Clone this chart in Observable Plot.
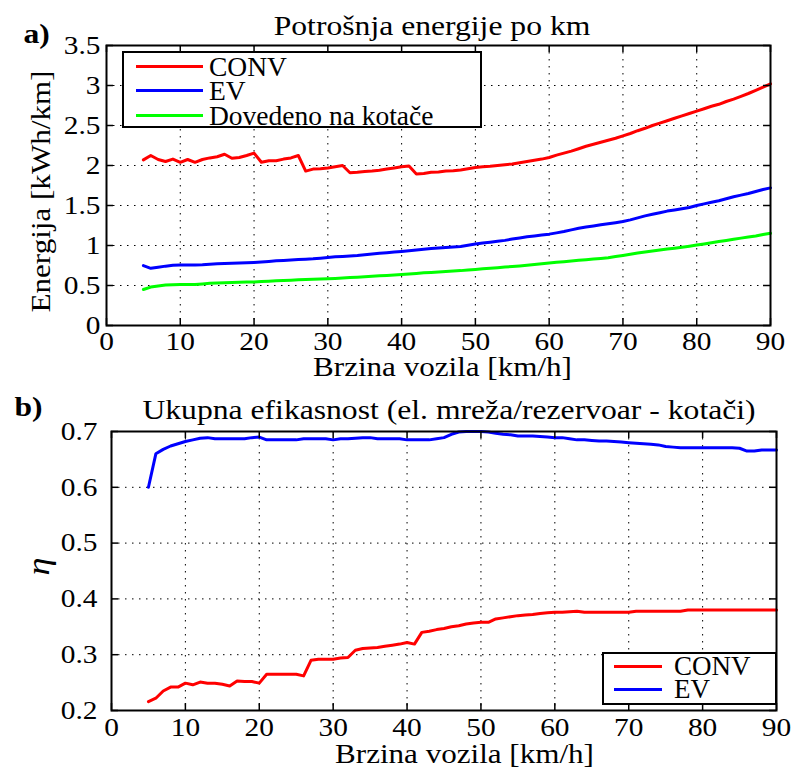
<!DOCTYPE html>
<html><head><meta charset="utf-8">
<script src="https://cdn.jsdelivr.net/npm/d3@7"></script>
<script src="https://cdn.jsdelivr.net/npm/@observablehq/plot@0.6"></script>
<style>
html,body{margin:0;padding:0;background:#fff;overflow:hidden;}
#root{position:relative;width:793px;height:767px;overflow:hidden;font-family:"Liberation Serif","Times New Roman",Times,Tinos,"DejaVu Serif","Noto Serif",serif;}
#root svg, #root svg text{font-family:"Liberation Serif","Times New Roman",Times,Tinos,"DejaVu Serif","Noto Serif",serif !important;}
.panel{position:absolute;left:0;}
.legend{position:absolute;background:#fff;border:2px solid #000;box-sizing:border-box;}
.lg-line{position:absolute;height:3px;}
.lg-text{position:absolute;line-height:0.8;transform:translateY(-50%);white-space:nowrap;color:#000;}
</style>
</head><body>
<div id="root"></div>
<script>
// ---------- data ----------
const speed = [5,6,7,8,9,10,11,12,13,14,15,16,17,18,19,20,21,22,23,24,25,26,27,28,29,30,31,32,33,34,35,36,37,38,39,40,41,42,43,44,45,46,47,48,49,50,51,52,53,54,55,56,57,58,59,60,61,62,63,64,65,66,67,68,69,70,71,72,73,74,75,76,77,78,79,80,81,82,83,84,85,86,87,88,89,90];

// a) energy per km [kWh/km]
const energyCONV = [2.07,2.125,2.075,2.05,2.08,2.04,2.075,2.04,2.075,2.095,
  2.11,2.14,2.09,2.10,2.125,2.155,2.04,2.06,2.06,2.08,
  2.095,2.125,1.93,1.955,1.96,1.97,1.985,2.0,1.91,1.915,
  1.925,1.93,1.94,1.955,1.97,1.985,1.995,1.895,1.90,1.915,
  1.92,1.93,1.935,1.945,1.96,1.975,1.985,1.99,2.0,2.01,
  2.02,2.035,2.05,2.065,2.08,2.10,2.13,2.155,2.18,2.21,
  2.24,2.265,2.29,2.315,2.34,2.37,2.40,2.435,2.465,2.50,
  2.53,2.56,2.59,2.62,2.65,2.68,2.71,2.74,2.765,2.80,
  2.83,2.865,2.90,2.94,2.98,3.02];
const energyEV = [0.748,0.715,0.728,0.742,0.752,0.756,0.756,0.756,0.76,0.767,
  0.771,0.774,0.777,0.781,0.785,0.789,0.795,0.801,0.808,0.814,
  0.819,0.824,0.829,0.834,0.842,0.85,0.858,0.864,0.870,0.876,
  0.885,0.893,0.902,0.91,0.918,0.926,0.935,0.944,0.953,0.962,
  0.97,0.976,0.982,0.988,1.003,1.018,1.032,1.042,1.052,1.064,
  1.08,1.095,1.11,1.12,1.13,1.142,1.158,1.174,1.195,1.215,
  1.23,1.245,1.26,1.272,1.285,1.30,1.32,1.345,1.37,1.39,
  1.41,1.43,1.445,1.46,1.475,1.50,1.52,1.54,1.56,1.585,
  1.61,1.63,1.65,1.675,1.70,1.72];
const energyWheels = [0.45,0.48,0.495,0.505,0.51,0.511,0.512,0.513,0.52,0.527,
  0.531,0.534,0.537,0.54,0.543,0.545,0.549,0.554,0.559,0.563,
  0.567,0.571,0.574,0.577,0.581,0.585,0.589,0.594,0.599,0.603,
  0.609,0.615,0.621,0.626,0.631,0.636,0.643,0.651,0.658,0.664,
  0.67,0.676,0.681,0.686,0.694,0.701,0.708,0.715,0.722,0.73,
  0.738,0.745,0.754,0.763,0.772,0.781,0.79,0.798,0.806,0.815,
  0.823,0.83,0.838,0.848,0.862,0.876,0.89,0.905,0.919,0.931,
  0.943,0.955,0.966,0.977,0.99,1.005,1.02,1.035,1.05,1.063,
  1.077,1.092,1.106,1.12,1.137,1.153];

// b) total efficiency
const effCONV = [0.216,0.222,0.235,0.242,0.242,0.249,0.246,0.251,0.249,0.249,
  0.247,0.244,0.253,0.252,0.252,0.249,0.265,0.265,0.265,0.265,
  0.265,0.262,0.29,0.292,0.292,0.292,0.294,0.295,0.308,0.311,
  0.312,0.313,0.315,0.317,0.319,0.322,0.319,0.34,0.342,0.345,
  0.347,0.35,0.352,0.355,0.357,0.358,0.358,0.364,0.366,0.368,
  0.37,0.371,0.372,0.374,0.375,0.376,0.376,0.377,0.378,0.376,
  0.376,0.376,0.376,0.376,0.376,0.376,0.378,0.378,0.378,0.378,
  0.378,0.378,0.378,0.38,0.38,0.38,0.38,0.38,0.38,0.38,
  0.38,0.38,0.38,0.38,0.38,0.38];
const effEV = [0.60,0.66,0.668,0.674,0.678,0.682,0.685,0.688,0.689,0.687,
  0.687,0.687,0.687,0.687,0.689,0.69,0.685,0.685,0.685,0.685,
  0.685,0.687,0.687,0.687,0.687,0.685,0.687,0.687,0.688,0.689,
  0.689,0.687,0.687,0.687,0.687,0.685,0.685,0.685,0.685,0.687,
  0.689,0.695,0.699,0.70,0.70,0.70,0.699,0.697,0.695,0.694,
  0.692,0.692,0.692,0.691,0.69,0.689,0.689,0.687,0.685,0.685,
  0.684,0.683,0.683,0.682,0.681,0.68,0.679,0.678,0.677,0.676,
  0.673,0.672,0.671,0.671,0.671,0.671,0.671,0.671,0.671,0.671,
  0.67,0.665,0.665,0.667,0.667,0.667];

const xTicks = [0,10,20,30,40,50,60,70,80,90];
const yTicksA = [0,0.5,1,1.5,2,2.5,3,3.5];
const yTicksB = [0.2,0.3,0.4,0.5,0.6,0.7];
const legendA = ["CONV","EV","Dovedeno na kotače"];
const legendB = ["CONV","EV"];
const colorsA = ["#ff0000","#0000ff","#00ff00"];
const colorsB = ["#ff0000","#0000ff"];

const titleA = "Potrošnja energije po km";
const titleB = "Ukupna efikasnost (el. mreža/rezervoar - kotači)";
const xLabel = "Brzina vozila [km/h]";
const yLabelA = "Energija [kWh/km]";
const yLabelB = "η";

// ---------- helpers ----------
const FONT = '"Liberation Serif","Times New Roman",Times,Tinos,"DejaVu Serif","Noto Serif",serif';
const grid = {stroke:"#000", strokeOpacity:1, strokeWidth:1, strokeDasharray:"1.5,5.5"};
function inwardTicks(W, H, yt, len){
  return [
    Plot.tickX(xTicks, {x:d=>d, insetTop:H-len, stroke:"#000", strokeWidth:1.5}),
    Plot.tickX(xTicks, {x:d=>d, insetBottom:H-len, stroke:"#000", strokeWidth:1.5}),
    Plot.tickY(yt, {y:d=>d, insetRight:W-len, stroke:"#000", strokeWidth:1.5}),
    Plot.tickY(yt, {y:d=>d, insetLeft:W-len, stroke:"#000", strokeWidth:1.5})
  ];
}
function stretch(svg, f){
  svg.querySelectorAll("text").forEach(t=>{
    if (t.querySelector("tspan")) return;
    const L = t.getComputedTextLength();
    if (L > 0){ t.setAttribute("textLength", (L*f).toFixed(2)); t.setAttribute("lengthAdjust","spacingAndGlyphs"); }
  });
}
function legend(root, {left, top, width, height, items, colors, rows, lineLeft, lineWidth, textLeft, fontSize}){
  const box = document.createElement("div");
  box.className = "legend";
  Object.assign(box.style, {left:left+"px", top:top+"px", width:width+"px", height:height+"px", fontSize:fontSize+"px"});
  items.forEach((name,i)=>{
    const ln = document.createElement("div");
    ln.className = "lg-line";
    Object.assign(ln.style, {left:lineLeft+"px", top:(rows[i]-1.5)+"px", width:lineWidth+"px", background:colors[i]});
    const tx = document.createElement("div");
    tx.className = "lg-text";
    Object.assign(tx.style, {left:textLeft+"px", top:(rows[i]+1)+"px"});
    tx.textContent = name;
    box.appendChild(ln); box.appendChild(tx);
  });
  root.appendChild(box);
}

const root = document.getElementById("root");

// ---------- panel a ----------
{
  const width = 793, height = 385, mT = 45, mB = 60, mL = 106, mR = 23;
  const W = width-mL-mR, H = height-mT-mB;
  const svg = Plot.plot({
    width, height, marginTop:mT, marginBottom:mB, marginLeft:mL, marginRight:mR,
    style:`font-family:${FONT};font-size:26px;background:#fff;overflow:visible;color:#000;`,
    x:{domain:[0,90]},
    y:{domain:[0,3.5]},
    marks:[
      Plot.gridX(xTicks, grid),
      Plot.gridY(yTicksA, grid),
      Plot.lineY(energyCONV, {x:speed, stroke:colorsA[0], strokeWidth:3}),
      Plot.lineY(energyEV, {x:speed, stroke:colorsA[1], strokeWidth:3}),
      Plot.lineY(energyWheels, {x:speed, stroke:colorsA[2], strokeWidth:3}),
      Plot.frame({stroke:"#000", strokeWidth:2}),
      ...inwardTicks(W, H, yTicksA, 7),
      Plot.axisX({ticks:xTicks, tickSize:0, tickPadding:6.5, tickFormat:String, label:null, fontSize:26}),
      Plot.axisY({ticks:yTicksA, tickSize:0, tickPadding:6, tickFormat:String, label:null, fontSize:26}),
      Plot.text([titleA], {frameAnchor:"top", textAnchor:"middle", lineAnchor:"top", dx:-6.5, dy:-30, fontSize:28}),
      Plot.text(["a)"], {frameAnchor:"top-left", textAnchor:"start", lineAnchor:"top", dx:-83, dy:-22, fontSize:28, fontWeight:"bold"}),
      Plot.text([xLabel], {frameAnchor:"bottom", textAnchor:"middle", lineAnchor:"top", dx:4, dy:31, fontSize:27.5}),
      Plot.text([yLabelA], {frameAnchor:"left", textAnchor:"middle", lineAnchor:"middle", rotate:-90, dx:-65, dy:6, fontSize:27.5})
    ]
  });
  const wrap = document.createElement("div");
  wrap.className = "panel"; wrap.style.top = "0px";
  wrap.appendChild(svg); root.appendChild(wrap);
  stretch(svg, 1.13);
  legend(root, {left:122, top:51, width:360, height:77, items:legendA, colors:colorsA,
    rows:[13,37,62], lineLeft:12, lineWidth:67, textLeft:85, fontSize:27.5});
}

// ---------- panel b ----------
{
  const width = 793, height = 382, mT = 46, mB = 57, mL = 111, mR = 17;
  const W = width-mL-mR, H = height-mT-mB;
  const svg = Plot.plot({
    width, height, marginTop:mT, marginBottom:mB, marginLeft:mL, marginRight:mR,
    style:`font-family:${FONT};font-size:26px;background:#fff;overflow:visible;color:#000;`,
    x:{domain:[0,90]},
    y:{domain:[0.2,0.7]},
    marks:[
      Plot.gridX(xTicks, grid),
      Plot.gridY(yTicksB, grid),
      Plot.lineY(effCONV, {x:speed, stroke:colorsB[0], strokeWidth:3}),
      Plot.lineY(effEV, {x:speed, stroke:colorsB[1], strokeWidth:3}),
      Plot.frame({stroke:"#000", strokeWidth:2}),
      ...inwardTicks(W, H, yTicksB, 7),
      Plot.axisX({ticks:xTicks, tickSize:0, tickPadding:7, tickFormat:String, label:null, fontSize:26}),
      Plot.axisY({ticks:yTicksB, tickSize:0, tickPadding:14, tickFormat:String, label:null, fontSize:26}),
      Plot.text([titleB], {frameAnchor:"top", textAnchor:"middle", lineAnchor:"top", dx:5, dy:-32, fontSize:28}),
      Plot.text(["b)"], {frameAnchor:"top-left", textAnchor:"start", lineAnchor:"top", dx:-97, dy:-35, fontSize:28, fontWeight:"bold"}),
      Plot.text([xLabel], {frameAnchor:"bottom", textAnchor:"middle", lineAnchor:"top", dx:20.5, dy:33, fontSize:27.5}),
      Plot.text([yLabelB], {frameAnchor:"left", textAnchor:"middle", lineAnchor:"middle", rotate:-90, dx:-73, dy:-4.5, fontSize:32, fontStyle:"italic"})
    ]
  });
  const wrap = document.createElement("div");
  wrap.className = "panel"; wrap.style.top = "385px";
  wrap.appendChild(svg); root.appendChild(wrap);
  stretch(svg, 1.13);
  legend(root, {left:602, top:652, width:175, height:53, items:legendB, colors:colorsB,
    rows:[12,35], lineLeft:10, lineWidth:48, textLeft:70, fontSize:27});
}
</script>
</body></html>
